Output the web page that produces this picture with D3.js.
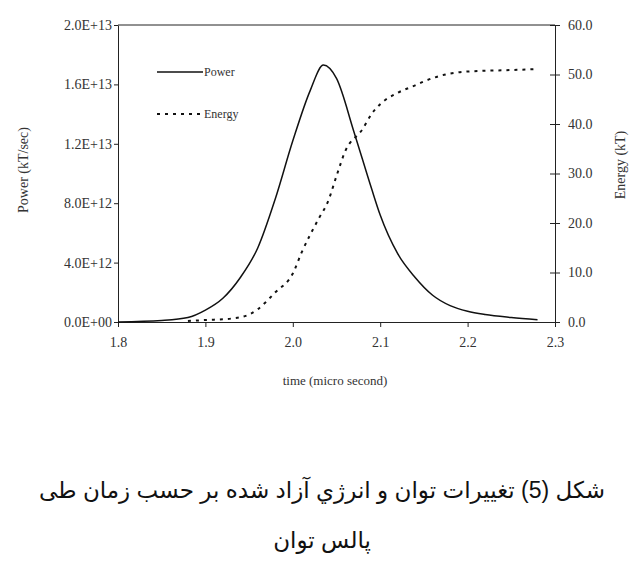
<!DOCTYPE html>
<html><head><meta charset="utf-8">
<script src="https://cdn.jsdelivr.net/npm/d3@7"></script>
<style>body{margin:0;background:#fff}svg{display:block}</style>
</head><body>
<svg id="chart" width="640" height="575"></svg>
<script>
const powerT = [1.8,1.85,1.88,1.9,1.92,1.94,1.96,1.98,2.0,2.02,2.035,2.05,2.07,2.09,2.1,2.12,2.14,2.16,2.18,2.2,2.22,2.25,2.28]
const powerV = [0,0.1,0.3,0.8,1.6,3.0,5.0,8.3,12.2,15.6,17.3,16.4,12.8,9.0,7.2,4.6,3.0,1.8,1.1,0.72,0.5,0.3,0.15].map(v => v * 1e12)
const energyT = [1.88,1.9,1.93,1.95,1.96,1.98,2.0,2.01,2.03,2.04,2.05,2.06,2.08,2.09,2.1,2.12,2.14,2.15,2.18,2.2,2.25,2.28]
const energyV = [0.2,0.4,0.7,1.5,2.6,6.0,9.8,14.0,21.0,24.2,29.5,34.5,39.0,42.0,44.0,46.3,47.8,48.6,50.2,50.6,50.9,51.1]
const xTicks = [1.8,1.9,2.0,2.1,2.2,2.3]
const leftTicks = [0,4e12,8e12,1.2e13,1.6e13,2e13]
const rightTicks = [0,10,20,30,40,50,60]

const svg = d3.select('#chart')
const m = {left: 118, right: 555, top: 25, bottom: 322}
const x = d3.scaleLinear().domain([1.8, 2.3]).range([m.left, m.right])
const yL = d3.scaleLinear().domain([0, 2e13]).range([m.bottom, m.top])
const yR = d3.scaleLinear().domain([0, 60]).range([m.bottom, m.top])
const serif = 'Liberation Serif, serif'
const txt = '#333'

const styleAxis = g => {
    g.selectAll('text').attr('font-family', serif).attr('font-size', 14).attr('fill', txt)
    g.selectAll('line,path').attr('stroke', '#222')
}

svg.append('line').attr('x1', m.left).attr('x2', m.right).attr('y1', m.top).attr('y2', m.top).attr('stroke', '#222')

svg.append('g').attr('transform', `translate(0,${m.bottom})`)
    .call(d3.axisBottom(x).tickValues(xTicks).tickFormat(d3.format('.1f')).tickSize(5).tickPadding(10))
    .call(styleAxis)
svg.append('g').attr('transform', `translate(${m.left},0)`)
    .call(d3.axisLeft(yL).tickValues(leftTicks).tickSize(4).tickSizeOuter(0).tickPadding(2)
        .tickFormat(d => d3.format('.1e')(d).replace('e+', 'E+').replace(/E\+(\d)$/, 'E+0$1')))
    .call(styleAxis)
const gr = svg.append('g').attr('transform', `translate(${m.right},0)`)
    .call(d3.axisRight(yR).tickValues(rightTicks).tickSize(5).tickSizeOuter(0).tickPadding(8).tickFormat(d3.format('.1f')))
    .call(styleAxis)
gr.selectAll('.tick line').attr('x1', -5)

const lineP = d3.line().curve(d3.curveMonotoneX).x((d, i) => x(powerT[i])).y(d => yL(d))
const lineE = d3.line().curve(d3.curveMonotoneX).x((d, i) => x(energyT[i])).y(d => yR(d))
svg.append('path').attr('d', lineP(powerV)).attr('fill', 'none').attr('stroke', '#111').attr('stroke-width', 1.5)
svg.append('path').attr('d', lineE(energyV)).attr('fill', 'none').attr('stroke', '#111').attr('stroke-width', 2).attr('stroke-dasharray', '3,5')

// legend
const leg = [{name: 'Power', dash: null, y: 72}, {name: 'Energy', dash: '3,5', y: 114}]
leg.forEach(l => {
    svg.append('line').attr('x1', 157).attr('x2', 203).attr('y1', l.y).attr('y2', l.y)
        .attr('stroke', '#111').attr('stroke-width', l.dash ? 2 : 1.5).attr('stroke-dasharray', l.dash)
    svg.append('text').attr('x', 204).attr('y', l.y + 4).text(l.name)
        .attr('font-family', serif).attr('font-size', 12).attr('fill', txt)
})

svg.append('text').attr('x', 335).attr('y', 385).attr('text-anchor', 'middle').text('time (micro second)')
    .attr('font-family', serif).attr('font-size', 13).attr('fill', txt)
svg.append('text').attr('transform', 'translate(28,170) rotate(-90)').attr('text-anchor', 'middle').text('Power (kT/sec)')
    .attr('font-family', serif).attr('font-size', 14).attr('fill', txt)
svg.append('text').attr('transform', 'translate(625,165) rotate(-90)').attr('text-anchor', 'middle').text('Energy (kT)')
    .attr('font-family', serif).attr('font-size', 14).attr('fill', txt)

const caption = ['شكل (5) تغييرات توان و انرژي آزاد شده بر حسب زمان طی', 'پالس توان']
caption.forEach((c, i) => {
    svg.append('text').attr('x', 322).attr('y', 498 + i * 50).attr('text-anchor', 'middle').attr('direction', 'rtl')
        .text(c).attr('font-family', 'Liberation Sans, DejaVu Sans, sans-serif').attr('font-size', 23).attr('fill', '#111')
})
</script>
</body></html>
